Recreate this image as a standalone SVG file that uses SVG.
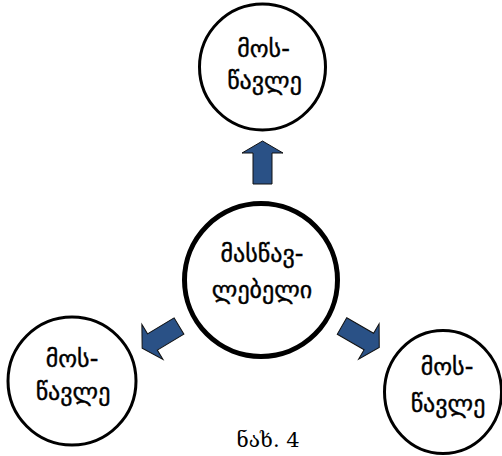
<svg xmlns="http://www.w3.org/2000/svg" width="502" height="456" viewBox="0 0 502 456">
<defs>
<style>
.node{fill:#fff;stroke:#000;stroke-width:3}
.main{fill:#fff;stroke:#000;stroke-width:5}
.lbl{font-family:"DejaVu Sans",sans-serif;font-size:24px;fill:#000;stroke:#000;stroke-width:0.4;text-anchor:middle}
.arr{fill:#2a5186;stroke:#111;stroke-width:1;stroke-linejoin:miter}
.cap{font-family:"DejaVu Serif",serif;font-size:21px;fill:#000;text-anchor:middle}
</style>
<polygon id="arrow" class="arr" points="0,-9.5 31,-9.5 31,-20.5 43,0 31,20.5 31,9.5 0,9.5"/>
</defs>
<rect width="502" height="456" fill="#fff"/>
<g id="connectors">
<use href="#arrow" transform="translate(262.5,184) rotate(-90)"/>
<use href="#arrow" transform="translate(179,326) rotate(149)"/>
<use href="#arrow" transform="translate(342,326) rotate(30)"/>
</g>
<g id="node-top">
<circle class="node" cx="262.5" cy="67" r="63"/>
<text class="lbl" x="263.5" y="57">მოს-</text>
<text class="lbl" x="264.5" y="89">წავლე</text>
</g>
<g id="node-center">
<circle class="main" cx="261" cy="280" r="76.5"/>
<text class="lbl" x="262" y="262">მასწავ-</text>
<text class="lbl" x="262" y="298">ლებელი</text>
</g>
<g id="node-left">
<circle class="node" cx="72" cy="381" r="64"/>
<text class="lbl" x="72" y="367">მოს-</text>
<text class="lbl" x="73" y="400">წავლე</text>
</g>
<g id="node-right">
<ellipse class="node" cx="443" cy="392" rx="58.5" ry="61.5"/>
<text class="lbl" x="447" y="375">მოს-</text>
<text class="lbl" x="448" y="412">წავლე</text>
</g>
<text class="cap" x="268" y="447">ნახ. 4</text>
</svg>
